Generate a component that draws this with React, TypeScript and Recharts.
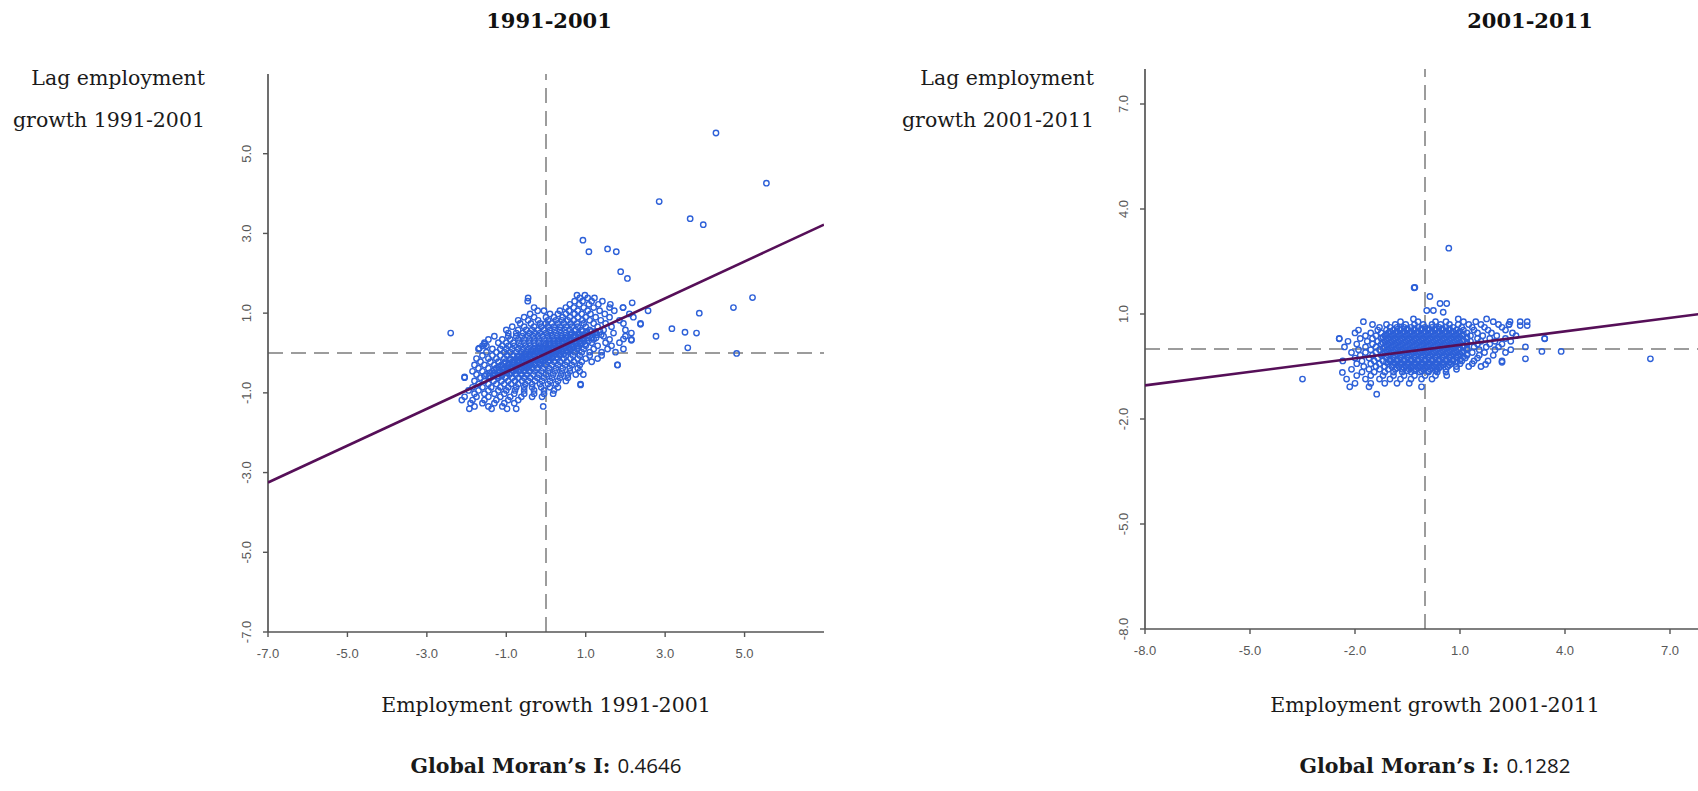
import React from 'react';
import { ScatterChart, Scatter, XAxis, YAxis, ReferenceLine } from 'recharts';

// ---- panel 1: 1991-2001 ----
const ticks1 = [-7, -5, -3, -1, 1, 3, 5];
const domain1: [number, number] = [-7, 7];
const fitX1 = [-7, 7];
const fitY1 = [-3.25, 3.22];
const moran1 = '0.4646';

// main cloud, one row per lag value: [lag, growth values]
const rows1: [number, number[]][] = [
  [1.45, [0.78, 0.98]],
  [1.38, [-0.45, 0.85, 1.05, 1.22]],
  [1.3, [-0.46, 0.72, 0.92, 1.15, 1.42]],
  [1.22, [0.6, 0.84, 1.08, 1.32, 1.62]],
  [1.14, [-0.3, 0.5, 0.7, 0.95, 1.2, 1.6, 1.94]],
  [1.06, [-0.21, -0.05, 0.35, 0.58, 0.8, 1.05, 1.35, 1.72, 2.57]],
  [0.98, [-0.4, 0.1, 0.3, 0.5, 0.72, 0.9, 1.12, 1.48, 2.1]],
  [0.9, [-0.55, -0.3, 0.0, 0.2, 0.42, 0.6, 0.8, 1.0, 1.25, 1.6, 2.2]],
  [0.82, [-0.7, -0.45, -0.2, 0.05, 0.25, 0.4, 0.55, 0.7, 0.92, 1.1, 1.38, 1.85]],
  [0.74, [-0.65, -0.38, -0.15, 0.0, 0.15, 0.3, 0.45, 0.62, 0.78, 0.95, 1.2, 1.5, 1.95, 2.38]],
  [0.66, [-0.85, -0.55, -0.3, -0.12, 0.05, 0.2, 0.35, 0.5, 0.65, 0.8, 1.0, 1.3, 1.65]],
  [0.58, [-1.0, -0.7, -0.5, -0.35, -0.2, -0.05, 0.1, 0.22, 0.35, 0.48, 0.6, 0.75, 0.9, 1.1, 1.45, 2.0]],
  [0.5, [-2.4, -0.95, -0.75, -0.58, -0.42, -0.28, -0.15, 0.0, 0.12, 0.25, 0.38, 0.5, 0.65, 0.82, 1.0, 1.25, 1.7, 2.15]],
  [0.42, [-1.3, -0.95, -0.75, -0.6, -0.45, -0.32, -0.2, -0.08, 0.05, 0.15, 0.28, 0.4, 0.55, 0.7, 0.88, 1.1, 1.45, 2.0]],
  [0.34, [-1.45, -1.1, -0.9, -0.7, -0.55, -0.42, -0.3, -0.18, -0.05, 0.08, 0.2, 0.32, 0.45, 0.6, 0.78, 0.95, 1.2, 1.6, 2.15]],
  [0.26, [-1.55, -1.2, -1.0, -0.82, -0.68, -0.55, -0.42, -0.3, -0.18, -0.05, 0.08, 0.2, 0.32, 0.45, 0.6, 0.75, 0.92, 1.15, 1.5, 1.85]],
  [0.18, [-1.6, -1.5, -1.1, -0.95, -0.8, -0.65, -0.52, -0.4, -0.28, -0.15, -0.02, 0.1, 0.22, 0.35, 0.5, 0.65, 0.8, 1.0, 1.3, 1.65]],
  [0.1, [-1.7, -1.35, -1.15, -1.0, -0.85, -0.7, -0.58, -0.45, -0.32, -0.2, -0.08, 0.05, 0.18, 0.3, 0.45, 0.6, 0.78, 0.95, 1.2, 1.55, 1.95]],
  [0.02, [-1.5, -1.25, -1.05, -0.9, -0.75, -0.62, -0.5, -0.38, -0.25, -0.12, 0.0, 0.12, 0.25, 0.4, 0.55, 0.72, 0.9, 1.1, 1.4, 1.75]],
  [-0.06, [-1.6, -1.35, -1.15, -0.98, -0.82, -0.68, -0.55, -0.42, -0.3, -0.18, -0.05, 0.08, 0.2, 0.35, 0.5, 0.68, 0.85, 1.1, 1.4]],
  [-0.14, [-1.75, -1.45, -1.25, -1.05, -0.9, -0.75, -0.62, -0.5, -0.38, -0.25, -0.12, 0.0, 0.15, 0.3, 0.45, 0.62, 0.8, 1.0, 1.3]],
  [-0.22, [-1.65, -1.4, -1.2, -1.02, -0.85, -0.72, -0.58, -0.45, -0.32, -0.2, -0.08, 0.05, 0.2, 0.35, 0.52, 0.7, 0.9, 1.15]],
  [-0.3, [-1.8, -1.55, -1.3, -1.12, -0.95, -0.8, -0.65, -0.52, -0.4, -0.28, -0.15, 0.0, 0.15, 0.3, 0.48, 0.65, 0.85, 1.8]],
  [-0.38, [-1.7, -1.45, -1.25, -1.05, -0.9, -0.75, -0.6, -0.48, -0.35, -0.22, -0.08, 0.08, 0.25, 0.42, 0.6, 0.8]],
  [-0.46, [-1.85, -1.6, -1.35, -1.15, -0.98, -0.82, -0.68, -0.55, -0.42, -0.28, -0.12, 0.05, 0.22, 0.4, 0.6, 0.85]],
  [-0.54, [-1.75, -1.5, -1.28, -1.1, -0.92, -0.76, -0.62, -0.48, -0.32, -0.18, 0.0, 0.18, 0.38, 0.55, 0.75, 0.94]],
  [-0.62, [-2.05, -1.65, -1.4, -1.2, -1.02, -0.85, -0.7, -0.55, -0.4, -0.22, -0.05, 0.15, 0.35, 0.55]],
  [-0.7, [-1.8, -1.55, -1.32, -1.12, -0.95, -0.78, -0.6, -0.45, -0.28, -0.1, 0.1, 0.3, 0.5]],
  [-0.78, [-1.7, -1.45, -1.25, -1.05, -0.88, -0.7, -0.52, -0.35, -0.15, 0.05, 0.25, 0.87]],
  [-0.86, [-1.85, -1.6, -1.38, -1.15, -0.95, -0.75, -0.55, -0.35, -0.12, 0.1, 0.3]],
  [-0.94, [-1.95, -1.7, -1.45, -1.2, -1.0, -0.78, -0.55, -0.3, -0.05, 0.2]],
  [-1.02, [-1.8, -1.55, -1.3, -1.05, -0.8, -0.55, -0.3, -0.05, 0.18]],
  [-1.1, [-2.05, -1.75, -1.45, -1.15, -0.9, -0.62, -0.35, -0.1]],
  [-1.18, [-2.12, -1.85, -1.55, -1.25, -0.95, -0.7]],
  [-1.26, [-1.9, -1.6, -1.3, -1.05, -0.8]],
  [-1.34, [-1.8, -1.45, -1.1, -0.07]],
  [-1.4, [-1.93, -1.37, -0.98, -0.75]],
];

// densest band along the fitted line, between the rows above
const core1: [number, number[]][] = [
  [0.54, [0.92, 1.03, 1.14, 1.25, 1.36]],
  [0.46, [0.62, 0.73, 0.84, 0.95, 1.06, 1.17, 1.28, 1.39]],
  [0.38, [0.38, 0.49, 0.6, 0.71, 0.82, 0.93, 1.04, 1.15, 1.26]],
  [0.3, [0.19, 0.3, 0.41, 0.52, 0.63, 0.74, 0.85, 0.96, 1.07]],
  [0.22, [-0.01, 0.1, 0.21, 0.32, 0.43, 0.54, 0.65, 0.76, 0.87, 0.98]],
  [0.14, [-0.19, -0.08, 0.03, 0.14, 0.25, 0.36, 0.47, 0.58, 0.69, 0.8]],
  [0.06, [-0.37, -0.26, -0.15, -0.04, 0.07, 0.18, 0.29, 0.4, 0.51, 0.62]],
  [-0.02, [-0.54, -0.43, -0.32, -0.21, -0.1, 0.01, 0.12, 0.23, 0.34, 0.45]],
  [-0.1, [-0.72, -0.61, -0.5, -0.39, -0.28, -0.17, -0.06, 0.05, 0.16, 0.27]],
  [-0.18, [-0.9, -0.79, -0.68, -0.57, -0.46, -0.35, -0.24, -0.13, -0.02, 0.09]],
  [-0.26, [-1.05, -0.94, -0.83, -0.72, -0.61, -0.5, -0.39, -0.28, -0.17]],
  [-0.34, [-1.2, -1.09, -0.98, -0.87, -0.76, -0.65, -0.54, -0.43]],
  [-0.42, [-1.3, -1.19, -1.08, -0.97, -0.86, -0.75, -0.64]],
  [-0.5, [-1.42, -1.31, -1.2, -1.09, -0.98, -0.87]],
  [-0.58, [-1.55, -1.44, -1.33, -1.22, -1.11]],
];

// scattered points away from the cloud: [growth, lag]
const outliers1: [number, number][] = [
  [4.28, 5.52], [5.55, 4.26], [2.85, 3.8], [3.63, 3.37], [3.96, 3.22],
  [0.93, 2.83], [1.08, 2.54], [1.55, 2.61], [1.77, 2.54], [1.88, 2.04],
  [2.05, 1.87], [5.2, 1.39], [4.72, 1.14], [3.86, 1.0], [3.17, 0.61],
  [3.5, 0.52], [3.79, 0.5], [2.77, 0.42], [3.57, 0.13], [4.8, -0.01],
  [-2.05, -0.6], [0.87, -0.8], [1.8, -0.3], [2.17, 1.26], [1.94, 1.14],
  [2.15, 0.32], [1.95, 0.35], [2.38, 0.72], [-1.55, 0.22], [-1.68, 0.12],
];

// ---- panel 2: 2001-2011 ----
const ticks2 = [-8, -5, -2, 1, 4, 7];
const domain2: [number, number] = [-8, 8];
const fitX2 = [-8, 8];
const fitY2 = [-1.04, 1.02];
const moran2 = '0.1282';

const rows2: [number, number[]][] = [
  [0.86, [-0.33, 0.95, 1.76]],
  [0.78, [-1.76, -0.7, -0.2, 0.3, 0.6, 1.1, 1.45, 1.95, 2.43, 2.72, 2.92]],
  [0.7, [-1.5, -1.1, -0.85, -0.55, -0.3, -0.05, 0.2, 0.45, 0.7, 0.95, 1.25, 1.6, 2.1, 2.4]],
  [0.62, [-1.3, -1.0, -0.8, -0.6, -0.4, -0.2, 0.0, 0.2, 0.4, 0.6, 0.8, 1.05, 1.35, 1.7, 2.2]],
  [0.54, [-1.9, -1.35, -1.1, -0.9, -0.7, -0.5, -0.3, -0.1, 0.1, 0.3, 0.5, 0.7, 0.9, 1.1, 1.4, 1.8, 2.3]],
  [0.46, [-2.0, -1.55, -1.25, -1.05, -0.85, -0.65, -0.45, -0.25, -0.05, 0.15, 0.35, 0.55, 0.75, 0.95, 1.2, 1.5, 1.9, 2.5]],
  [0.38, [-1.7, -1.4, -1.15, -0.95, -0.75, -0.55, -0.35, -0.15, 0.05, 0.25, 0.45, 0.65, 0.85, 1.05, 1.3, 1.65, 2.05, 2.6]],
  [0.3, [-2.45, -1.85, -1.5, -1.25, -1.05, -0.85, -0.65, -0.45, -0.25, -0.05, 0.15, 0.35, 0.55, 0.75, 0.95, 1.2, 1.5, 1.85, 2.3, 3.42]],
  [0.22, [-2.2, -1.65, -1.35, -1.15, -0.95, -0.75, -0.55, -0.35, -0.15, 0.05, 0.25, 0.45, 0.65, 0.85, 1.05, 1.3, 1.6, 2.0, 2.45]],
  [0.14, [-1.95, -1.5, -1.25, -1.05, -0.85, -0.65, -0.45, -0.25, -0.05, 0.15, 0.35, 0.55, 0.75, 0.95, 1.2, 1.5, 1.85, 2.2]],
  [0.06, [-2.3, -1.7, -1.4, -1.15, -0.95, -0.75, -0.55, -0.35, -0.15, 0.05, 0.25, 0.45, 0.65, 0.85, 1.1, 1.4, 1.75, 2.1, 2.87]],
  [-0.02, [-1.9, -1.55, -1.3, -1.05, -0.85, -0.65, -0.45, -0.25, -0.05, 0.15, 0.35, 0.55, 0.75, 0.95, 1.2, 1.55, 2.0, 2.45]],
  [-0.1, [-2.1, -1.7, -1.4, -1.15, -0.95, -0.75, -0.55, -0.35, -0.15, 0.05, 0.25, 0.45, 0.65, 0.85, 1.05, 1.35, 1.7, 2.3]],
  [-0.18, [-1.85, -1.5, -1.25, -1.05, -0.85, -0.65, -0.45, -0.25, -0.05, 0.15, 0.35, 0.55, 0.75, 0.95, 1.2, 1.55, 1.95]],
  [-0.26, [-2.0, -1.6, -1.35, -1.1, -0.9, -0.7, -0.5, -0.3, -0.1, 0.1, 0.3, 0.5, 0.7, 0.9, 1.15, 1.5]],
  [-0.34, [-2.35, -1.8, -1.45, -1.2, -1.0, -0.8, -0.6, -0.4, -0.2, 0.0, 0.2, 0.4, 0.6, 0.8, 1.05, 1.4, 1.8, 2.2]],
  [-0.42, [-1.95, -1.55, -1.3, -1.05, -0.85, -0.65, -0.45, -0.25, -0.05, 0.15, 0.35, 0.55, 0.75, 1.0, 1.35]],
  [-0.5, [-1.75, -1.4, -1.15, -0.95, -0.75, -0.55, -0.35, -0.15, 0.05, 0.25, 0.45, 0.65, 0.9, 1.25, 1.6]],
  [-0.58, [-2.1, -1.6, -1.3, -1.05, -0.85, -0.65, -0.45, -0.25, -0.05, 0.15, 0.35, 0.6, 0.9]],
  [-0.66, [-1.8, -1.45, -1.15, -0.9, -0.65, -0.4, -0.15, 0.1, 0.35, 0.6]],
  [-0.76, [-1.95, -1.55, -1.2, -0.9, -0.6, -0.3, 0.0, 0.3, 0.62]],
  [-0.86, [-2.24, -1.7, -1.3, -1.0, -0.7, -0.4, -0.1, 0.2]],
  [-0.98, [-2.0, -1.55, -1.15, -0.8, -0.45]],
  [-1.08, [-2.15, -1.6, -0.1]],
];

// solid core of the cloud
const core2: [number, number[]][] = [
  [0.58, [-0.7, -0.5, -0.3, -0.1, 0.1, 0.3, 0.5, 0.7]],
  [0.5, [-1.0, -0.8, -0.6, -0.4, -0.2, 0.0, 0.2, 0.4, 0.6, 0.8, 1.0]],
  [0.42, [-1.1, -0.9, -0.7, -0.5, -0.3, -0.1, 0.1, 0.3, 0.5, 0.7, 0.9, 1.1]],
  [0.34, [-1.2, -1.0, -0.8, -0.6, -0.4, -0.2, 0.0, 0.2, 0.4, 0.6, 0.8, 1.0, 1.2]],
  [0.26, [-1.1, -0.9, -0.7, -0.5, -0.3, -0.1, 0.1, 0.3, 0.5, 0.7, 0.9, 1.1]],
  [0.18, [-1.2, -1.0, -0.8, -0.6, -0.4, -0.2, 0.0, 0.2, 0.4, 0.6, 0.8, 1.0, 1.2]],
  [0.1, [-1.1, -0.9, -0.7, -0.5, -0.3, -0.1, 0.1, 0.3, 0.5, 0.7, 0.9, 1.1]],
  [0.02, [-1.2, -1.0, -0.8, -0.6, -0.4, -0.2, 0.0, 0.2, 0.4, 0.6, 0.8, 1.0, 1.2]],
  [-0.06, [-1.1, -0.9, -0.7, -0.5, -0.3, -0.1, 0.1, 0.3, 0.5, 0.7, 0.9, 1.1]],
  [-0.14, [-1.2, -1.0, -0.8, -0.6, -0.4, -0.2, 0.0, 0.2, 0.4, 0.6, 0.8, 1.0, 1.2]],
  [-0.22, [-1.1, -0.9, -0.7, -0.5, -0.3, -0.1, 0.1, 0.3, 0.5, 0.7, 0.9, 1.1]],
  [-0.3, [-1.0, -0.8, -0.6, -0.4, -0.2, 0.0, 0.2, 0.4, 0.6, 0.8, 1.0]],
  [-0.38, [-1.1, -0.9, -0.7, -0.5, -0.3, -0.1, 0.1, 0.3, 0.5, 0.7, 0.9]],
  [-0.46, [-0.9, -0.7, -0.5, -0.3, -0.1, 0.1, 0.3, 0.5, 0.7]],
  [-0.54, [-0.8, -0.6, -0.4, -0.2, 0.0, 0.2, 0.4]],
  [-0.62, [-0.5, -0.3, -0.1, 0.1, 0.3]],
];

const outliers2: [number, number][] = [
  [0.68, 2.88], [-0.31, 1.75], [-0.29, 1.76], [0.14, 1.5], [0.43, 1.3],
  [0.62, 1.3], [0.05, 1.1], [0.24, 1.1], [0.52, 1.05], [6.44, -0.28],
  [-3.5, -0.86], [3.89, -0.07], [3.34, -0.07], [3.42, 0.29], [2.87, -0.28],
  [2.72, 0.67], [2.92, 0.67], [2.4, 0.7], [2.2, -0.38], [1.73, -0.44],
  [-2.45, 0.29], [-2.36, -0.67], [-1.38, -1.29],
];

const toPoints = (rows: [number, number[]][], core: [number, number[]][], extra: [number, number][]) => [
  ...rows.flatMap(([y, xs]) => xs.map((x) => ({ x, y }))),
  ...core.flatMap(([y, xs]) => xs.map((x) => ({ x, y }))),
  ...extra.map(([x, y]) => ({ x, y })),
];
const toFit = (xs: number[], ys: number[]) => xs.map((x, i) => ({ x, y: ys[i] }));

const AXIS = '#555555';
const TICK_FONT = '"Liberation Sans", Arial, sans-serif';
const SERIF = '"DejaVu Serif", serif';

const XTick = (props: any) => {
  const { x, y, payload } = props;
  return (
    <text x={x} y={y + 21} textAnchor="middle" fill="#585858" fontSize={13} fontFamily={TICK_FONT}>
      {Number(payload.value).toFixed(1)}
    </text>
  );
};

const YTick = (props: any) => {
  const { x, y, payload } = props;
  const tx = x - 12;
  return (
    <text x={tx} y={y} transform={`rotate(-90 ${tx} ${y})`} textAnchor="middle" fill="#585858" fontSize={13} fontFamily={TICK_FONT}>
      {Number(payload.value).toFixed(1)}
    </text>
  );
};

const Dot = (props: any) => (
  <circle cx={props.cx} cy={props.cy} r={2.7} fill="none" stroke="#2d60d8" strokeWidth={1.4} />
);
const NoDot = () => <g />;

interface PanelProps {
  left: number;
  top: number;
  width: number;
  height: number;
  marginTop: number;
  domain: [number, number];
  ticks: number[];
  points: { x: number; y: number }[];
  fit: { x: number; y: number }[];
}

const Panel = ({ left, top, width, height, marginTop, domain, ticks, points, fit }: PanelProps) => (
  <div style={{ position: 'absolute', left, top }}>
    <ScatterChart width={width} height={height} margin={{ top: marginTop, right: 10, bottom: 6, left: 18 }}>
      <XAxis
        type="number"
        dataKey="x"
        domain={domain}
        ticks={ticks}
        interval={0}
        allowDataOverflow
        height={40}
        tickSize={5}
        tickMargin={0}
        axisLine={{ stroke: AXIS, strokeWidth: 1.7 }}
        tickLine={{ stroke: AXIS, strokeWidth: 1.4 }}
        tick={XTick}
      />
      <YAxis
        type="number"
        dataKey="y"
        domain={domain}
        ticks={ticks}
        interval={0}
        allowDataOverflow
        width={50}
        tickSize={5}
        tickMargin={0}
        axisLine={{ stroke: AXIS, strokeWidth: 1.7 }}
        tickLine={{ stroke: AXIS, strokeWidth: 1.4 }}
        tick={YTick}
      />
      <ReferenceLine x={0} stroke="#9c9c9c" strokeWidth={2} strokeDasharray="15 8" />
      <ReferenceLine y={0} stroke="#9c9c9c" strokeWidth={2} strokeDasharray="15 8" />
      <Scatter data={points} shape={Dot} isAnimationActive={false} />
      <Scatter
        data={fit}
        shape={NoDot}
        line={{ stroke: '#560f58', strokeWidth: 2.6 }}
        isAnimationActive={false}
      />
    </ScatterChart>
  </div>
);

const points1 = toPoints(rows1, core1, outliers1);
const points2 = toPoints(rows2, core2, outliers2);
const fit1 = toFit(fitX1, fitY1);
const fit2 = toFit(fitX2, fitY2);

export default function App() {
  const label = { fontFamily: SERIF, fontSize: 20.5, fill: '#1a1a1a' };
  const title = { fontFamily: SERIF, fontSize: 21, fontWeight: 700, fill: '#111' };
  return (
    <div style={{ position: 'fixed', left: 0, top: 0, width: 1698, height: 791, overflow: 'hidden', background: '#fff' }}>
      <svg width={1698} height={791} style={{ position: 'absolute', left: 0, top: 0 }}>
        <text x={549} y={28} textAnchor="middle" {...title}>1991-2001</text>
        <text x={1530} y={28} textAnchor="middle" {...title}>2001-2011</text>

        <text x={205} y={85} textAnchor="end" {...label}>Lag employment</text>
        <text x={205} y={127} textAnchor="end" {...label}>growth 1991-2001</text>
        <text x={1094} y={85} textAnchor="end" {...label}>Lag employment</text>
        <text x={1094} y={127} textAnchor="end" {...label}>growth 2001-2011</text>

        <text x={546} y={712} textAnchor="middle" {...label}>Employment growth 1991-2001</text>
        <text x={1435} y={712} textAnchor="middle" {...label}>Employment growth 2001-2011</text>

        <text x={546} y={773} textAnchor="middle" {...label}>
          <tspan fontWeight={700}>Global Moran’s I: </tspan>
          <tspan fontFamily='"Open Sans", "Noto Sans", sans-serif'>{moran1}</tspan>
        </text>
        <text x={1435} y={773} textAnchor="middle" {...label}>
          <tspan fontWeight={700}>Global Moran’s I: </tspan>
          <tspan fontFamily='"Open Sans", "Noto Sans", sans-serif'>{moran2}</tspan>
        </text>
      </svg>

      <Panel left={200} top={40} width={634} height={638} marginTop={34} domain={domain1} ticks={ticks1} points={points1} fit={fit1} />
      <Panel left={1077} top={40} width={638} height={635} marginTop={29} domain={domain2} ticks={ticks2} points={points2} fit={fit2} />
    </div>
  );
}
